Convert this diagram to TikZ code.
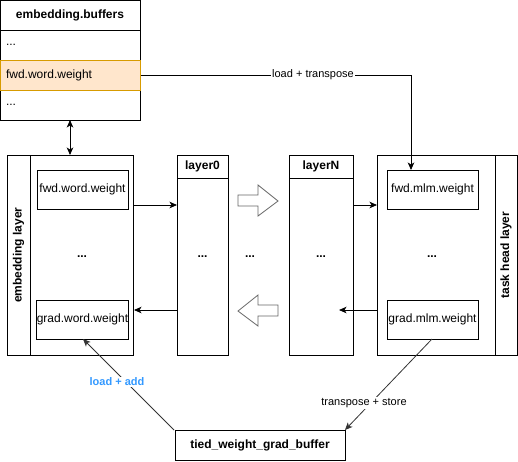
\documentclass[tikz,border=0pt]{standalone}
\usepackage{fontspec}
\setmainfont{Liberation Sans}
\usetikzlibrary{arrows.meta}
\definecolor{orfill}{HTML}{FFE6CC}
\definecolor{ordraw}{HTML}{D79B00}
\definecolor{lblue}{HTML}{3399FF}
\definecolor{dgray}{HTML}{333333}
\definecolor{bgray}{HTML}{666666}
\tikzset{
  box/.style={draw=black, line width=1pt, inner sep=0pt, font=\fontsize{12}{14}\selectfont},
  rowbox/.style={box, minimum width=140pt, minimum height=30pt, text width=128pt, inner xsep=6pt, align=left},
  wbox/.style={box, minimum width=91pt, minimum height=39pt},
  lbl/.style={font=\fontsize{11}{13}\selectfont, fill=white, inner sep=1pt},
  conn/.style={line width=0.8pt, -{Stealth[length=7.5pt,width=6.5pt,inset=2pt]}},
  blockarrow/.style={draw=bgray, line width=0.8pt, fill=white, line join=miter},
  dots/.style={font=\fontsize{12}{14}\selectfont\bfseries, inner sep=0pt}
}
\begin{document}
\begin{tikzpicture}[x=1pt, y=-1pt]
\useasboundingbox (0,0) rectangle (518,461);
% embedding.buffers
\node[box, minimum width=140pt, minimum height=30pt, font=\fontsize{12}{14}\selectfont\bfseries] (ebhead) at (70,15) {embedding.buffers};
\node[rowbox] (ebr1) at (70,45) {...};
\node[rowbox] (ebr3) at (70,105) {...};
\node[rowbox, draw=ordraw, fill=orfill] (ebfwd) at (70,75) {fwd.word.weight};
% embedding layer
\node[box, minimum width=126pt, minimum height=200pt] (emb) at (70,255) {};
\draw[line width=1pt] (30,155) -- (30,355);
\node[font=\fontsize{12}{14}\selectfont\bfseries, rotate=90] (emblbl) at (18.5,255) {embedding layer};
\node[wbox] (ewfwd) at (82.5,189.5) {fwd.word.weight};
\node[wbox] (ewgrad) at (82.5,319.5) {grad.word.weight};
\node[dots] (embdots) at (82,257) {...};
% layer0
\node[box, minimum width=51pt, minimum height=200pt] (l0) at (202.5,255) {};
\draw[line width=1pt] (177,178) -- (228,178);
\node[font=\fontsize{12}{14}\selectfont\bfseries] (l0lbl) at (202.5,166.5) {layer0};
\node[dots] (l0dots) at (202.5,257) {...};
% middle
\node[dots] (middots) at (250,257) {...};
\draw[blockarrow] (238,195) -- (258,195) -- (258,185) -- (278,201) -- (258,216) -- (258,206) -- (238,206) -- cycle;
\draw[blockarrow] (278,305) -- (258,305) -- (258,295) -- (238,311) -- (258,326) -- (258,316) -- (278,316) -- cycle;
% layerN
\node[box, minimum width=64pt, minimum height=200pt] (ln) at (321,255) {};
\draw[line width=1pt] (289,178) -- (353,178);
\node[font=\fontsize{12}{14}\selectfont\bfseries] (lnlbl) at (321,166.5) {layerN};
\node[dots] (lndots) at (321,257) {...};
% task head layer
\node[box, minimum width=140pt, minimum height=200pt] (th) at (447,255) {};
\draw[line width=1pt] (495,155) -- (495,355);
\node[font=\fontsize{12}{14}\selectfont\bfseries, rotate=90] (thlbl) at (506,255) {task head layer};
\node[wbox] (tmfwd) at (432.5,189.5) {fwd.mlm.weight};
\node[wbox] (tmgrad) at (432.5,319.5) {grad.mlm.weight};
\node[dots] (thdots) at (432,257) {...};
% tied buffer
\node[box, minimum width=170pt, minimum height=30pt, font=\fontsize{12}{14}\selectfont\bfseries] (tied) at (260,445) {tied\_weight\_grad\_buffer};
% connectors
\draw[line width=0.8pt, {Stealth[length=7.5pt,width=6.5pt,inset=2pt]}-{Stealth[length=7.5pt,width=6.5pt,inset=2pt]}] (70,120) -- (70,155);
\draw[conn] (133,205) -- (177,205);
\draw[conn] (177,310) -- (134,310);
\draw[conn] (353,205) -- (377,205);
\draw[conn] (377,310) -- (339,310);
\draw[conn] (ebfwd.east) -- (411,75) -- (411,170);
\node[lbl] (ltlbl) at (313,75) {load + transpose};
\draw[conn, dgray] (432,339) -- (345,430);
\node[lbl] (tslbl) at (364,403) {transpose + store};
\draw[conn, dgray] (174,430) -- (83,339);
\node[lbl, text=lblue, font=\fontsize{11}{13}\selectfont\bfseries] (lalbl) at (117,382) {load + add};
\end{tikzpicture}
\end{document}
